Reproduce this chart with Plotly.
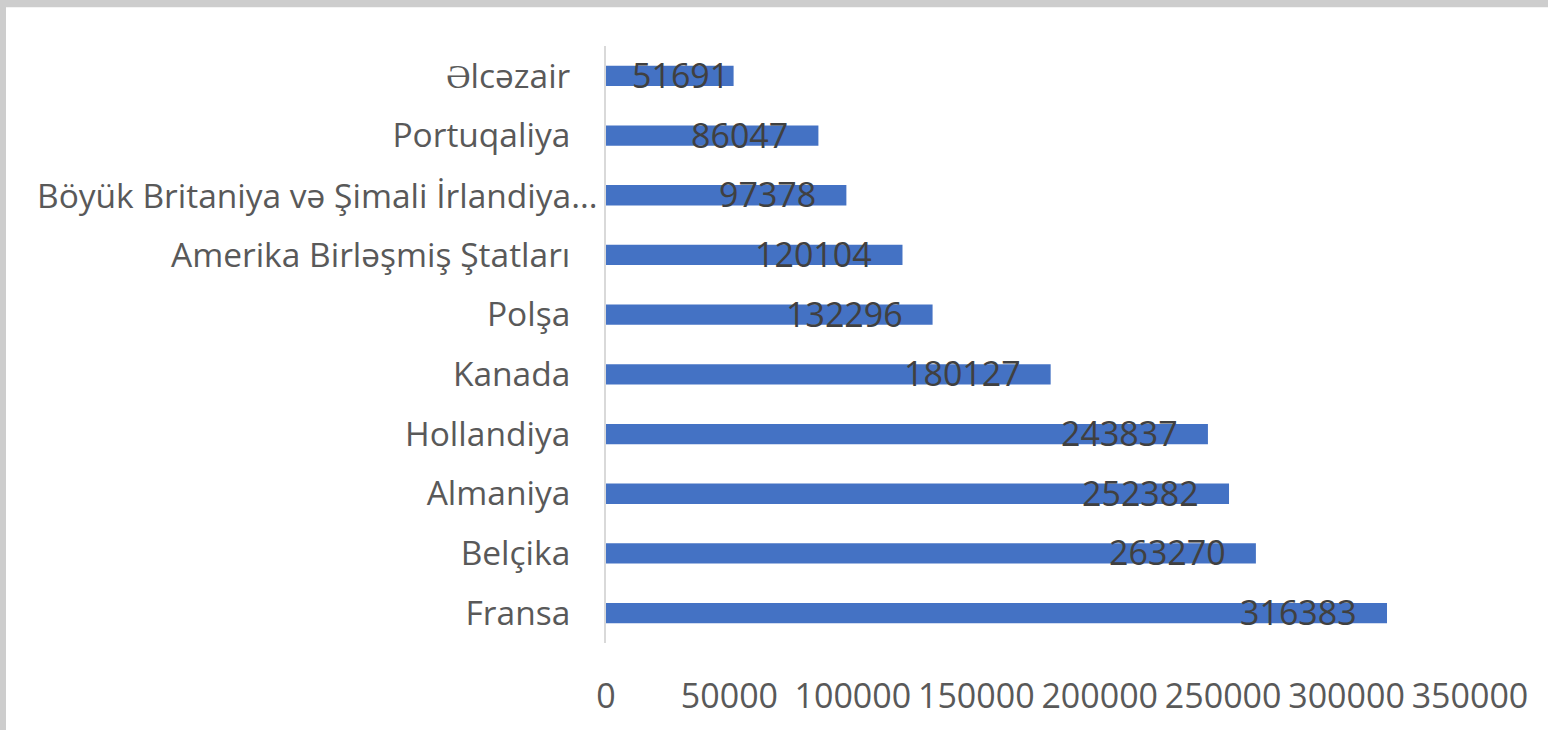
import plotly.graph_objects as go

countries = ["Əlcəzair", "Portuqaliya", "Böyük Britaniya və Şimali İrlandiya...",
             "Amerika Birləşmiş Ştatları", "Polşa", "Kanada", "Hollandiya",
             "Almaniya", "Belçika", "Fransa"]
values = [51691, 86047, 97378, 120104, 132296, 180127, 243837, 252382, 263270, 316383]
x_ticks = [0, 50000, 100000, 150000, 200000, 250000, 300000, 350000]

W, H = 1548, 730
L, R, T, B = 606, 78, 46, 83
PW, PH = W - L - R, H - T - B
XMAX = 350000
FONT = "Open Sans"
LONG = countries[2]  # wrapped/truncated label sits closer to the axis

fig = go.Figure()
fig.add_trace(go.Bar(
    x=values, y=countries, orientation="h",
    marker=dict(color="#4472C4", line=dict(width=0)),
    hoverinfo="x+y",
))

ann = []
for c, v in zip(countries, values):
    px = v * PW / XMAX
    shift = -28 if px > 160 else -3
    ann.append(dict(x=v, y=c, xref="x", yref="y", text=str(v), showarrow=False,
                    xanchor="right", yanchor="middle", xshift=shift, yshift=1,
                    font=dict(family=FONT, size=34, color="#404040")))
ann.append(dict(x=0, y=LONG, xref="paper", yref="y", text=LONG, showarrow=False,
                xanchor="right", yanchor="middle", xshift=-6,
                font=dict(family=FONT, size=33.5, color="#595959")))

fig.update_layout(
    width=W, height=H,
    margin=dict(l=L, r=R, t=T, b=B),
    paper_bgcolor="#cdcdcd",
    plot_bgcolor="white",
    bargap=0.66,
    showlegend=False,
    annotations=ann,
    shapes=[dict(type="rect", xref="paper", yref="paper",
                 x0=(6 - L) / PW, x1=(W - L) / PW + 0.01,
                 y0=-B / PH - 0.01, y1=(H - 7 - B) / PH,
                 fillcolor="white", line=dict(width=0), layer="below")],
    xaxis=dict(range=[0, XMAX], tickvals=x_ticks, ticktext=[str(t) for t in x_ticks],
               showgrid=False, zeroline=False, showline=False, ticks="",
               ticklabelstandoff=30,
               tickfont=dict(family=FONT, size=34, color="#595959")),
    yaxis=dict(autorange="reversed", showgrid=False, zeroline=False,
               showline=True, linecolor="#d9d9d9", linewidth=2, ticks="",
               ticklabelstandoff=27,
               tickvals=countries,
               ticktext=["" if c == LONG else c for c in countries],
               tickfont=dict(family=FONT, size=33.5, color="#595959")),
)

fig.write_html("out.html", config={"displayModeBar": False},
               post_script="document.body.style.margin='0';document.body.style.overflow='hidden';")
